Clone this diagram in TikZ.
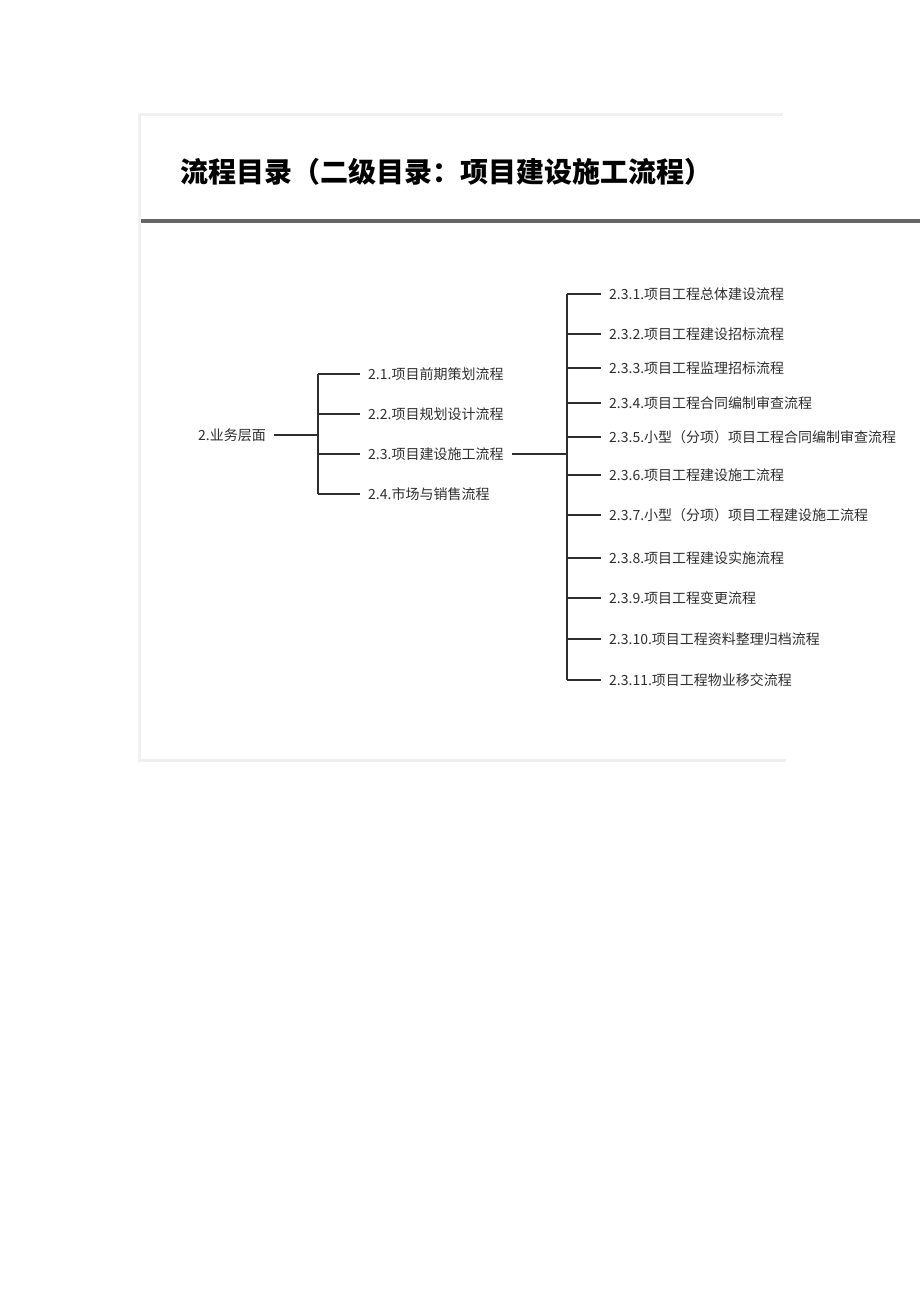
\documentclass[tikz,border=0pt]{standalone}
\usepackage{fontspec}
\setmainfont{Noto Sans CJK SC}
\usepackage{tikz}
\usetikzlibrary{positioning}

\definecolor{framegray}{HTML}{F1F0EE}
\definecolor{rulegray}{HTML}{666666}
\definecolor{inkgray}{HTML}{2E2E2E}

\begin{document}
\begin{tikzpicture}[x=1pt,y=-1pt]
        % Setup the styles for the entries and the tree lines
        \tikzset{item style/.style={anchor=west,
                                    inner xsep=8pt,
                                    inner ysep=2pt,
                                    text=inkgray,
                                    font=\fontsize{14}{16}\selectfont},
                 tree line/.style={line width=1.1pt,
                                   draw=inkgray}}
        \useasboundingbox (0,0) rectangle (920,1302);

        % Draw the frame and the title
        \draw[framegray, line width=3pt] (783,114) -- (139.5,114) -- (139.5,760) -- (786,760);
        \node[anchor=west, inner sep=0pt, font=\fontsize{28}{30}\selectfont\bfseries] (title) at (180,172) {流程目录（二级目录：项目建设施工流程）};
        \draw[rulegray, line width=4pt] (141,221) -- (920,221);

        % Draw the entries
        \node[item style, anchor=east] at (274,435) (lvl2)  {2.业务层面};
        \node[item style] at (360,374) (n21)   {2.1.项目前期策划流程};
        \node[item style] at (360,414) (n22)   {2.2.项目规划设计流程};
        \node[item style] at (360,454) (n23)   {2.3.项目建设施工流程};
        \node[item style] at (360,494) (n24)   {2.4.市场与销售流程};

        \node[item style] at (601,294) (n231)  {2.3.1.项目工程总体建设流程};
        \node[item style] at (601,334) (n232)  {2.3.2.项目工程建设招标流程};
        \node[item style] at (601,368) (n233)  {2.3.3.项目工程监理招标流程};
        \node[item style] at (601,403) (n234)  {2.3.4.项目工程合同编制审查流程};
        \node[item style] at (601,437) (n235)  {2.3.5.小型（分项）项目工程合同编制审查流程};
        \node[item style] at (601,475) (n236)  {2.3.6.项目工程建设施工流程};
        \node[item style] at (601,515) (n237)  {2.3.7.小型（分项）项目工程建设施工流程};
        \node[item style] at (601,558) (n238)  {2.3.8.项目工程建设实施流程};
        \node[item style] at (601,598) (n239)  {2.3.9.项目工程变更流程};
        \node[item style] at (601,639) (n2310) {2.3.10.项目工程资料整理归档流程};
        \node[item style] at (601,680) (n2311) {2.3.11.项目工程物业移交流程};

        \coordinate (hubA) at (318,435);
        \coordinate (hubB) at (567,455);

        % Connect the entries with lines
        \draw[tree line] (lvl2.east) -- (hubA);
        \draw[tree line] (hubA |- n21.west) -- (hubA |- n24.west);
        \draw[tree line]
            (hubA |- n21.west) -- (n21.west)
            (hubA |- n22.west) -- (n22.west)
            (hubA |- n23.west) -- (n23.west)
            (hubA |- n24.west) -- (n24.west);

        \draw[tree line] (n23.east) -- (n23.east -| hubB);
        \draw[tree line] (hubB |- n231.west) -- (hubB |- n2311.west);
        \draw[tree line]
            (hubB |- n231.west)  -- (n231.west)
            (hubB |- n232.west)  -- (n232.west)
            (hubB |- n233.west)  -- (n233.west)
            (hubB |- n234.west)  -- (n234.west)
            (hubB |- n235.west)  -- (n235.west)
            (hubB |- n236.west)  -- (n236.west)
            (hubB |- n237.west)  -- (n237.west)
            (hubB |- n238.west)  -- (n238.west)
            (hubB |- n239.west)  -- (n239.west)
            (hubB |- n2310.west) -- (n2310.west)
            (hubB |- n2311.west) -- (n2311.west);
\end{tikzpicture}
\end{document}
